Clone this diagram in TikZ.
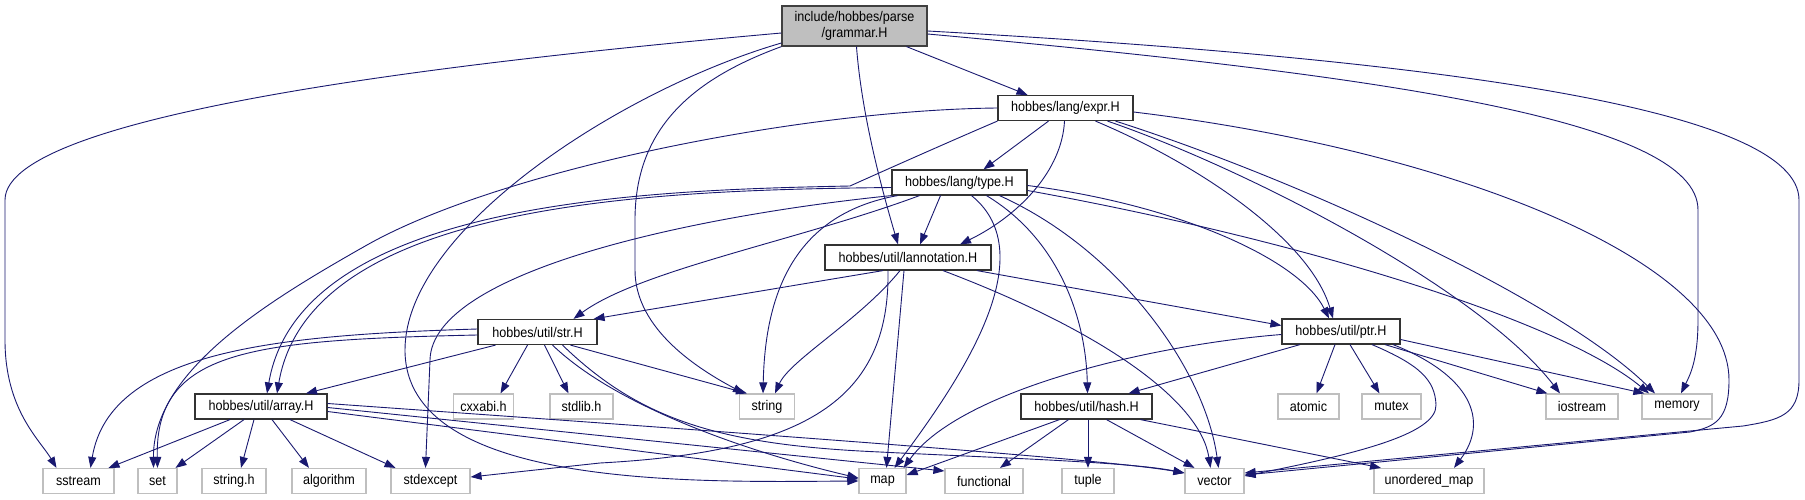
\documentclass[tikz,border=0pt]{standalone}
\usepackage{fontspec}
\setmainfont{Liberation Sans}[FakeStretch=0.9]
\usetikzlibrary{arrows.meta}
\definecolor{edgeblue}{HTML}{191970}
\definecolor{leafgray}{HTML}{BFBFBF}
\definecolor{rootgray}{HTML}{BFBFBF}
\begin{document}
\begin{tikzpicture}[x=1pt,y=-1pt,
  every node/.style={font=\fontsize{14}{16}\selectfont, inner sep=0pt},
  filebox/.style={draw=black!80, line width=1.2pt, fill=white, minimum height=25pt},
  rootbox/.style={draw=black!75, line width=1.2pt, fill=rootgray, minimum height=40pt, align=center},
  sysbox/.style={draw=leafgray, line width=1.2pt, fill=white, minimum height=25pt},
  dep/.style={draw=edgeblue, line width=0.9pt, -{Triangle[length=11pt,width=8pt]}},
]
\fill[white] (0,0) rectangle (1805,500);
\useasboundingbox (0,0) rectangle (1805,500);

% main nodes
\node[rootbox, minimum width=145pt] (grammar) at (854.5,26) {include/hobbes/parse\\/grammar.H};
\node[filebox, minimum width=135pt] (expr) at (1065.5,108) {hobbes/lang/expr.H};
\node[filebox, minimum width=135pt] (type) at (959.5,182.5) {hobbes/lang/type.H};
\node[filebox, minimum width=166pt] (lann) at (908,257.5) {hobbes/util/lannotation.H};
\node[filebox, minimum width=119pt] (str) at (537.5,332) {hobbes/util/str.H};
\node[filebox, minimum width=118pt] (ptr) at (1341,331.5) {hobbes/util/ptr.H};
\node[filebox, minimum width=132pt] (array) at (261,406.5) {hobbes/util/array.H};
\node[filebox, minimum width=131pt] (hash) at (1086.5,406.5) {hobbes/util/hash.H};

% system headers, middle row
\node[sysbox, minimum width=60pt] (cxxabi) at (483.5,406.5) {cxxabi.h};
\node[sysbox, minimum width=63pt] (stdlib) at (581.5,406.5) {stdlib.h};
\node[sysbox, minimum width=55pt] (string) at (767,406.5) {string};
\node[sysbox, minimum width=61pt] (atomic) at (1308.5,406.5) {atomic};
\node[sysbox, minimum width=59pt] (mutex) at (1391.5,406.5) {mutex};
\node[sysbox, minimum width=72pt] (iostream) at (1582,406.5) {iostream};
\node[sysbox, minimum width=70pt] (memory) at (1677,406.5) {memory};

% system headers, bottom row
\node[sysbox, minimum width=71pt] (sstream) at (78.5,481) {sstream};
\node[sysbox, minimum width=39pt] (set) at (157.5,481) {set};
\node[sysbox, minimum width=64pt] (stringh) at (234,481) {string.h};
\node[sysbox, minimum width=74pt] (algorithm) at (329,481) {algorithm};
\node[sysbox, minimum width=79pt] (stdexcept) at (430.5,481) {stdexcept};
\node[sysbox, minimum width=47pt] (map) at (882.5,481) {map};
\node[sysbox, minimum width=78pt] (functional) at (984,481) {functional};
\node[sysbox, minimum width=52pt] (tuple) at (1088,481) {tuple};
\node[sysbox, minimum width=59pt] (vector) at (1214.5,481) {vector};
\node[sysbox, minimum width=110pt] (umap) at (1429,481) {unordered\_map};

% grammar.H
\draw[dep] ([yshift=-7pt]grammar.west) .. controls (500,58) and (5,110) .. (5,200) -- (5,340) .. controls (5,410) and (40,440) .. ([xshift=-22pt]sstream.north);
\draw[dep] (grammar.south west) .. controls (690,80) and (635,130) .. (635,220) -- (635,270) .. controls (635,330) and (700,370) .. ([xshift=-23pt]string.north);
\draw[dep] ([yshift=-17pt]grammar.west) .. controls (620,90) and (405,230) .. (405,350) .. controls (405,490) and (700,482) .. (map.west);
\draw[dep] ([xshift=52pt]grammar.south) -- ([xshift=-38pt]expr.north);
\draw[dep] ([xshift=2pt]grammar.south) .. controls (862,120) and (885,200) .. ([xshift=-10pt]lann.north);
\draw[dep] ([yshift=-8pt]grammar.east) .. controls (1380,75) and (1698,120) .. (1698,210) -- (1698,320) .. controls (1698,360) and (1690,375) .. ([xshift=4pt]memory.north);
\draw[dep] ([yshift=-5pt]grammar.east) .. controls (1450,60) and (1799,110) .. (1799,200) -- (1799,380) .. controls (1799,415) and (1780,420) .. (1743,426) -- ([yshift=8pt]vector.east);

% expr.H
\draw[dep] ([xshift=-17pt]expr.south) -- ([xshift=24pt]type.north);
\draw[dep] ([xshift=-1pt]expr.south) .. controls (1062,170) and (1020,215) .. ([xshift=52pt]lann.north);
\draw[dep] ([xshift=30pt]expr.south) .. controls (1200,165) and (1310,240) .. ([xshift=-8pt]ptr.north);
\draw[dep] ([xshift=42pt]expr.south) .. controls (1250,170) and (1480,290) .. ([xshift=-22pt]iostream.north);
\draw[dep] ([xshift=50pt]expr.south) .. controls (1300,180) and (1560,300) .. ([xshift=-22pt]memory.north);
\draw[dep] ([yshift=-4pt]expr.east) .. controls (1450,150) and (1729,260) .. (1729,380) .. controls (1729,420) and (1715,427) .. (1690,432) -- ([yshift=6pt]vector.east);
\draw[dep] (expr.west) .. controls (800,110) and (500,170) .. (367,245) .. controls (270,300) and (153,370) .. ([xshift=-4pt]set.north);
\draw[dep] (expr.south west) .. controls (960,137) and (890,168) .. (850,186) .. controls (650,190) and (300,200) .. ([xshift=6pt]array.north);

% type.H
\draw[dep] ([yshift=-5pt]type.west) .. controls (660,190) and (310,200) .. ([xshift=16pt]array.north);
\draw[dep] ([xshift=-19pt]type.south) -- ([xshift=12pt]lann.north);
\draw[dep] ([xshift=-40pt]type.south) .. controls (800,240) and (640,270) .. ([xshift=36pt]str.north);
\draw[dep] ([xshift=-62pt]type.south) .. controls (790,215) and (765,300) .. ([xshift=-4pt]string.north);
\draw[dep] (type.south west) .. controls (700,215) and (432,270) .. (430,360) -- ([xshift=-5pt]stdexcept.north);
\draw[dep] ([xshift=12pt]type.south) .. controls (1045,255) and (960,380) .. ([xshift=12pt]map.north);
\draw[dep] ([xshift=27pt]type.south) .. controls (1060,240) and (1086,320) .. ([xshift=1pt]hash.north);
\draw[dep] ([xshift=40pt]type.south) .. controls (1120,250) and (1205,370) .. ([xshift=4pt]vector.north);
\draw[dep] ([yshift=-3pt]type.east) .. controls (1180,205) and (1300,260) .. ([xshift=-12pt]ptr.north);
\draw[dep] ([yshift=-8pt]type.east) .. controls (1300,240) and (1560,320) .. ([xshift=-28pt]memory.north);

% lannotation.H
\draw[dep] ([xshift=-25pt]lann.south) -- ([xshift=-4pt]str.north east);
\draw[dep] ([xshift=-8pt]lann.south) .. controls (860,320) and (790,360) .. ([xshift=8pt]string.north);
\draw[dep] ([xshift=-4pt]lann.south) -- ([xshift=4pt]map.north);
\draw[dep] ([xshift=-20pt]lann.south) .. controls (890,400) and (805,452) .. (600,463) -- ([yshift=4pt]stdexcept.east);
\draw[dep] ([xshift=35pt]lann.south) .. controls (1100,330) and (1200,400) .. ([xshift=-4pt]vector.north);
\draw[dep] ([xshift=69pt]lann.south) -- ([yshift=6pt]ptr.west);

% str.H
\draw[dep] ([xshift=-42pt]str.south) -- ([xshift=45pt]array.north);
\draw[dep] ([xshift=-10pt]str.south) -- ([xshift=17pt]cxxabi.north);
\draw[dep] ([xshift=7pt]str.south) -- ([xshift=-13pt]stdlib.north);
\draw[dep] ([xshift=33pt]str.south) -- ([xshift=-20pt]string.north);
\draw[dep] ([xshift=15pt]str.south) .. controls (620,410) and (760,455) .. ([yshift=3pt]map.west);
\draw[dep] ([xshift=25pt]str.south) .. controls (640,420) and (720,445) .. (880,452) .. controls (1000,458) and (1130,462) .. ([yshift=8pt]vector.west);
\draw[dep] ([yshift=3pt]str.west) .. controls (280,335) and (110,350) .. ([xshift=12pt]sstream.north);
\draw[dep] ([yshift=-3pt]str.west) .. controls (250,340) and (155,350) .. (set.north);

% array.H
\draw[dep] ([xshift=-31pt]array.south) -- ([xshift=30pt]sstream.north);
\draw[dep] ([xshift=-17pt]array.south) -- ([xshift=18pt]set.north);
\draw[dep] ([xshift=-7pt]array.south) -- ([xshift=7pt]stringh.north);
\draw[dep] ([xshift=11pt]array.south) -- ([xshift=-20pt]algorithm.north);
\draw[dep] ([xshift=29pt]array.south) -- ([xshift=-35pt]stdexcept.north);
\draw[dep] ([yshift=-5pt]array.east) -- ([yshift=2pt]map.west);
\draw[dep] ([yshift=-1pt]array.east) -- ([yshift=10pt]functional.west);
\draw[dep] ([yshift=3pt]array.east) .. controls (700,430) and (1100,458) .. ([yshift=8pt]vector.west);

% ptr.H
\draw[dep] ([xshift=-41pt]ptr.south) -- ([xshift=42pt]hash.north);
\draw[dep] ([xshift=-6pt]ptr.south) -- ([xshift=8pt]atomic.north);
\draw[dep] ([xshift=9pt]ptr.south) -- ([xshift=-12pt]mutex.north);
\draw[dep] ([xshift=44pt]ptr.south) -- ([xshift=2pt]iostream.north west);
\draw[dep] ([yshift=-8pt]ptr.east) -- ([xshift=3pt]memory.north west);
\draw[dep] ([yshift=-3pt]ptr.west) .. controls (1150,345) and (960,390) .. ([xshift=-3pt]map.north east);
\draw[dep] ([xshift=31pt]ptr.south) .. controls (1420,365) and (1435,380) .. (1436,405) .. controls (1437,435) and (1350,455) .. ([yshift=5pt]vector.east);
\draw[dep] ([xshift=52pt]ptr.south) .. controls (1470,375) and (1490,420) .. ([xshift=25pt]umap.north);

% hash.H
\draw[dep] ([xshift=-27pt]hash.south) -- ([yshift=6pt]map.east);
\draw[dep] ([xshift=-18pt]hash.south) -- ([xshift=16pt]functional.north);
\draw[dep] ([xshift=1.5pt]hash.south) -- (tuple.north);
\draw[dep] ([xshift=20pt]hash.south) -- ([xshift=-20pt]vector.north);
\draw[dep] ([xshift=54pt]hash.south) -- ([xshift=-48pt]umap.north);
\end{tikzpicture}
\end{document}
